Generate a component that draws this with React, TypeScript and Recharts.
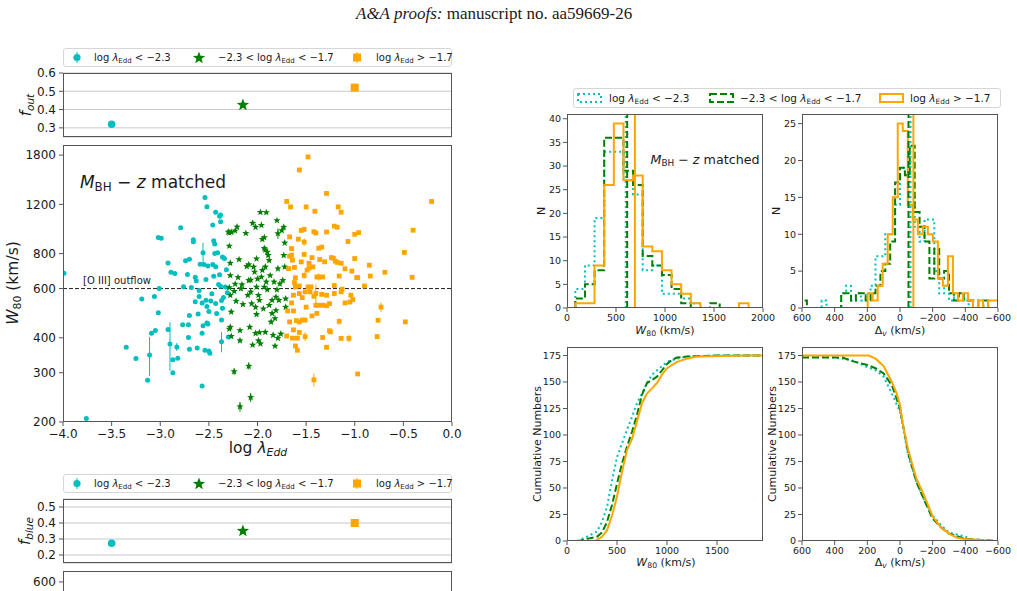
import React from 'react';
import { ScatterChart, Scatter, LineChart, Line, XAxis, YAxis, CartesianGrid, ReferenceLine, ErrorBar } from 'recharts';

const CYAN = '#00bfbf';
const GREEN = '#008000';
const ORANGE = '#ffa500';
const INK = '#1a1a1a';
const FRAME = '#555';
const FONT = '"DejaVu Sans", Verdana, sans-serif';

// Eddington-ratio bins: centre of each bin and the two fractions
const groupLogEdd = [-3.5, -2.15, -1.0];
const fOut = [0.32, 0.425, 0.52];
const fBlue = [0.273, 0.35, 0.4];

const mainTicksX = [-4, -3.5, -3, -2.5, -2, -1.5, -1, -0.5, 0];
const mainTicksY = [200, 300, 400, 600, 800, 1200, 1800];

// [log lambda_Edd, W80 (km/s), optional W80 error]
const lowEdd: number[][] = [
  [-3.99, 680], [-3.76, 206], [-3.35, 370], [-3.25, 337], [-3.19, 550], [-3.13, 282], [-3.11, 347, 55],
  [-3.09, 415], [-3.06, 562], [-3.05, 425], [-3.02, 492], [-3.01, 600], [-3.02, 914], [-2.99, 908],
  [-2.92, 740], [-2.92, 428], [-2.9, 380, 75], [-2.89, 686], [-2.87, 300], [-2.87, 334], [-2.85, 679],
  [-2.83, 371, 12], [-2.82, 338], [-2.79, 990], [-2.77, 445], [-2.76, 609], [-2.74, 755], [-2.72, 674],
  [-2.71, 445], [-2.71, 401], [-2.7, 364], [-2.7, 481], [-2.7, 763], [-2.68, 605], [-2.66, 896],
  [-2.66, 882], [-2.64, 658], [-2.64, 538], [-2.63, 640], [-2.62, 368], [-2.61, 487], [-2.6, 562],
  [-2.6, 590], [-2.59, 733], [-2.57, 269], [-2.57, 415], [-2.57, 533], [-2.56, 442], [-2.56, 805, 70],
  [-2.55, 732], [-2.54, 1269], [-2.54, 361], [-2.53, 646], [-2.53, 545], [-2.52, 1176], [-2.52, 518],
  [-2.52, 452], [-2.51, 722], [-2.51, 448], [-2.5, 359], [-2.5, 497], [-2.49, 352], [-2.48, 541],
  [-2.47, 575], [-2.46, 1013], [-2.46, 732], [-2.45, 890], [-2.45, 664], [-2.44, 866], [-2.44, 800],
  [-2.43, 1125], [-2.43, 718], [-2.43, 530], [-2.42, 489], [-2.41, 805], [-2.4, 620], [-2.39, 672],
  [-2.39, 1087], [-2.38, 1099], [-2.38, 1040], [-2.38, 612], [-2.37, 544], [-2.37, 463], [-2.37, 387, 32],
  [-2.36, 778], [-2.36, 510], [-2.35, 557], [-2.34, 768], [-2.33, 608], [-2.31, 580], [-2.3, 403], [-2.32, 700],
];

const midEdd: number[][] = [
  [-2.3, 957], [-2.29, 950], [-2.27, 955], [-2.23, 966], [-2.21, 997], [-2.24, 303, 8], [-2.29, 852],
  [-2.28, 740], [-2.28, 668], [-2.29, 605], [-2.28, 568], [-2.27, 495], [-2.28, 437], [-2.29, 430],
  [-2.27, 405], [-2.24, 587], [-2.23, 623], [-2.22, 541], [-2.2, 658], [-2.19, 762], [-2.18, 425],
  [-2.18, 391], [-2.18, 227, 9], [-2.17, 600], [-2.16, 620], [-2.15, 527], [-2.12, 946], [-2.11, 720],
  [-2.1, 568], [-2.09, 731], [-2.09, 317, 9], [-2.09, 642], [-2.08, 437], [-2.07, 644], [-2.07, 245, 9],
  [-2.07, 584], [-2.06, 530], [-2.05, 1028], [-2.05, 377], [-2.04, 717], [-2.03, 688], [-2.02, 415],
  [-2.02, 515], [-2.02, 995], [-2.01, 608], [-2.01, 767], [-2.01, 485], [-2.0, 650], [-1.99, 391],
  [-1.99, 568], [-1.98, 418], [-1.98, 545], [-1.97, 1125], [-1.97, 381], [-1.96, 1011], [-1.96, 660],
  [-1.95, 698], [-1.95, 900], [-1.94, 508], [-1.93, 914], [-1.93, 608], [-1.93, 835], [-1.92, 717],
  [-1.92, 825], [-1.92, 419], [-1.91, 1122], [-1.91, 634], [-1.9, 811], [-1.9, 594], [-1.89, 789],
  [-1.88, 523], [-1.88, 757], [-1.87, 668], [-1.86, 456], [-1.85, 489], [-1.85, 545], [-1.84, 409],
  [-1.83, 634], [-1.82, 469], [-1.82, 374], [-1.81, 560], [-1.81, 501], [-1.8, 1051], [-1.8, 594],
  [-1.79, 707], [-1.79, 944, 40], [-1.79, 399], [-1.78, 545], [-1.77, 624], [-1.76, 413], [-1.75, 968],
  [-1.74, 642], [-1.73, 995], [-1.73, 789], [-1.72, 874], [-1.72, 717], [-1.71, 515], [-1.71, 552],
];

const highEdd: number[][] = [
  [-1.48, 1773], [-1.57, 1593], [-1.7, 1229], [-1.66, 1175], [-1.5, 1175], [-1.41, 1134], [-1.29, 1313],
  [-1.17, 1175], [-1.14, 1125], [-0.21, 1229], [-0.4, 970], [-0.49, 808], [-0.41, 658], [-0.48, 456],
  [-1.67, 918], [-1.55, 968], [-1.52, 977], [-1.52, 880, 25], [-1.42, 958], [-1.4, 948], [-1.37, 836],
  [-1.34, 844], [-1.29, 956], [-1.21, 1003], [-1.18, 994], [-1.07, 884], [-1.0, 938], [-0.96, 951],
  [-1.65, 834], [-1.58, 901], [-1.65, 790], [-1.67, 783], [-1.64, 758], [-1.68, 707], [-1.62, 714],
  [-1.61, 656], [-1.55, 747], [-1.52, 795], [-1.52, 668, 18], [-1.49, 698], [-1.47, 739], [-1.47, 710],
  [-1.44, 774], [-1.43, 717], [-1.39, 660], [-1.37, 660, 20], [-1.36, 762], [-1.33, 660], [-1.31, 748],
  [-1.24, 774], [-1.22, 770], [-1.2, 752], [-1.18, 744], [-1.14, 739], [-1.1, 706], [-1.03, 693],
  [-1.0, 768], [-0.98, 657], [-0.97, 656], [-0.9, 613], [-0.85, 727], [-0.84, 665], [-0.69, 686],
  [-1.16, 665], [-1.21, 615], [-1.62, 630], [-1.61, 608], [-1.57, 613], [-1.63, 568], [-1.65, 533],
  [-1.69, 499], [-1.63, 499], [-1.67, 456], [-1.6, 461], [-1.57, 456], [-1.54, 463], [-1.51, 463],
  [-1.57, 576], [-1.54, 557], [-1.51, 584], [-1.5, 515], [-1.48, 608], [-1.46, 584], [-1.45, 608],
  [-1.42, 563], [-1.4, 576, 45], [-1.4, 523], [-1.37, 523], [-1.33, 523], [-1.29, 521], [-1.26, 530],
  [-1.44, 479], [-1.39, 489], [-1.34, 572], [-1.29, 568], [-1.21, 576], [-1.14, 584], [-1.13, 597],
  [-1.1, 533], [-1.05, 537], [-1.04, 568], [-1.02, 548], [-1.16, 458, 12], [-1.14, 398], [-1.06, 398, 12],
  [-0.77, 404], [-0.76, 462], [-0.73, 515, 20], [-0.97, 297], [-1.42, 283, 15], [-1.7, 406], [-1.64, 399],
  [-1.59, 399], [-1.51, 404, 15], [-1.61, 374], [-1.59, 361], [-1.57, 418], [-1.29, 370], [-1.33, 401],
  [-1.26, 424], [-1.25, 420], [-1.63, 427],
];

// W80 histograms: first bin edge, bin width, counts
const w80Start = 85;
const w80Width = 98.2;
const w80Low = [4, 9, 19, 33, 33, 27, 24, 8, 9, 3, 3, 2, 1];
const w80Mid = [2, 5, 8, 36, 36, 29, 26, 11, 9, 7, 4, 1, 0, 0, 1];
const w80High = [1, 1, 9, 26, 39, 27, 28, 13, 12, 8, 5, 3, 1, 0, 0, 0, 0, 1];
const w80Median = [600, 614, 693];

// velocity-offset histograms (bins run from positive to negative)
const dvLowStart = 600;
const dvLowWidth = -30;
const dvLow = [0, 0, 0, 0, 1, 0, 0, 0, 2, 3, 1, 2, 1, 2, 3, 7, 7, 10, 10, 14, 19, 18, 15, 11, 9, 12, 12, 5, 2, 3, 1, 2, 2, 1];
const dvMid = [1, 0, 0, 0, 0, 0, 0, 0, 2, 2, 1, 2, 2, 1, 2, 3, 5, 6, 9, 17, 19, 18, 22, 13, 11, 9, 4, 8, 4, 5, 2, 1, 2, 1, 1, 1, 0, 1];
const dvHighStart = 198;
const dvHighWidth = -30.7;
const dvHigh = [2, 1, 3, 6, 10, 15, 25, 24, 14, 12, 10, 11, 10, 9, 4, 3, 7, 2, 1, 2, 1, 0, 1, 0, 1, 1];
const dvMedian = [-64, -52, -82];

// cumulative distributions
const cumW80LowX = [0, 100, 200, 300, 350, 400, 450, 500, 550, 600, 650, 700, 750, 800, 850, 900, 1000, 1100, 1200, 1600, 1960];
const cumW80LowN = [0, 0, 4, 9, 18, 32, 57, 79, 92, 105, 117, 130, 139, 149, 157, 161, 169, 172, 174, 175, 175];
const cumW80MidX = [0, 120, 200, 300, 350, 400, 450, 500, 550, 600, 650, 700, 750, 800, 850, 900, 950, 1000, 1050, 1100, 1200, 1500, 1960];
const cumW80MidN = [0, 0, 2, 4, 8, 18, 34, 54, 73, 89, 103, 119, 138, 149, 152, 155, 161, 167, 171, 173, 174, 175, 175];
const cumW80HighX = [0, 280, 300, 350, 400, 450, 500, 550, 600, 650, 700, 750, 800, 850, 900, 950, 1000, 1100, 1200, 1300, 1850, 1960];
const cumW80HighN = [0, 0, 1, 4, 10, 24, 42, 65, 86, 96, 113, 130, 139, 144, 149, 157, 163, 169, 172, 174, 175, 175];

const cumDvLowX = [600, 450, 350, 300, 200, 150, 100, 50, 0, -50, -100, -150, -200, -250, -300, -400, -450, -500, -600];
const cumDvLowN = [174, 174, 172, 171, 164, 161, 155, 139, 122, 81, 56, 38, 24, 15, 8, 4, 1, 0, 0];
const cumDvMidX = [600, 350, 300, 200, 150, 100, 50, 0, -50, -100, -150, -200, -250, -300, -400, -500, -600];
const cumDvMidN = [173, 173, 170, 166, 163, 158, 147, 125, 83, 56, 38, 21, 13, 7, 2, 1, 0];
const cumDvHighX = [600, 190, 150, 100, 50, 20, 0, -20, -50, -100, -150, -200, -250, -300, -350, -400, -490, -560, -600];
const cumDvHighN = [175, 175, 172, 165, 150, 139, 128, 108, 86, 59, 42, 23, 13, 7, 3, 2, 1, 0, 0];

const rows = (pts: number[][]) => pts.map(([x, w, e = 0]) => ({ x, w, e }));
const zip = (xs: number[], ns: number[]) => xs.map((x, i) => ({ x, n: ns[i] }));
const steps = (start: number, width: number, counts: number[]) => {
  const pts = [{ x: start, n: 0 }];
  counts.forEach((n, i) => pts.push({ x: start + i * width, n }));
  pts.push({ x: start + counts.length * width, n: 0 });
  return pts;
};

const minus = (s: string) => s.replace('-', '\u2212');
const fmt1 = (v: number) => minus(v.toFixed(1));
const fmt0 = (v: number) => minus(String(v));

const starPoints = (cx: number, cy: number, R: number) => {
  const out: string[] = [];
  for (let i = 0; i < 10; i++) {
    const r = i % 2 ? R * 0.42 : R;
    const a = -Math.PI / 2 + (i * Math.PI) / 5;
    out.push(`${cx + r * Math.cos(a)},${cy + r * Math.sin(a)}`);
  }
  return out.join(' ');
};

const circleShape = (r: number) => (p: any) => <circle cx={p.cx} cy={p.cy} r={r} fill={CYAN} />;
const starShape = (R: number) => (p: any) => <polygon points={starPoints(p.cx, p.cy, R)} fill={GREEN} />;
const squareShape = (s: number) => (p: any) => (
  <rect x={p.cx - s / 2} y={p.cy - s / 2} width={s} height={s} fill={ORANGE} />
);

const Sub = ({ children, italic }: { children: React.ReactNode; italic?: boolean }) => (
  <span style={{ fontSize: '0.7em', verticalAlign: '-0.3em', fontStyle: italic ? 'italic' : 'normal' }}>{children}</span>
);

const Tag = ({ x, y, size, rot, children }: { x: number; y: number; size: number; rot?: boolean; children: React.ReactNode }) => (
  <div
    style={{
      position: 'absolute', left: x, top: y, fontSize: size, lineHeight: 1, whiteSpace: 'nowrap', color: INK,
      transform: `translate(-50%, -50%)${rot ? ' rotate(-90deg)' : ''}`,
    }}
  >
    {children}
  </div>
);

const Frame = ({ x, y, w, h }: { x: number; y: number; w: number; h: number }) => (
  <div style={{ position: 'absolute', left: x, top: y, width: w, height: h, border: `1px solid ${FRAME}`, boxSizing: 'border-box', pointerEvents: 'none' }} />
);

const LogEdd = () => (
  <>
    log <i>λ</i><Sub>Edd</Sub>
  </>
);

const groupText = [
  <><LogEdd /> &lt; −2.3</>,
  <>−2.3 &lt; <LogEdd /> &lt; −1.7</>,
  <><LogEdd /> &gt; −1.7</>,
];

// marker legend used above the fraction panels
const MarkerLegend = ({ top }: { top: number }) => {
  const cx = [77, 199, 357];
  const tx = [94, 218, 376];
  return (
    <div style={{ position: 'absolute', left: 63, top, width: 389, height: 19, border: '1px solid #d6d6d6', borderRadius: 3, boxSizing: 'border-box' }}>
      <svg width={389} height={19} style={{ position: 'absolute', left: -1, top: -1 }}>
        <line x1={cx[0] - 63} x2={cx[0] - 63} y1={4} y2={15} stroke={CYAN} strokeWidth={1} />
        <circle cx={cx[0] - 63} cy={9.5} r={3.6} fill={CYAN} />
        <polygon points={starPoints(cx[1] - 63, 10, 6.5)} fill={GREEN} />
        <line x1={cx[2] - 63} x2={cx[2] - 63} y1={4} y2={15} stroke={ORANGE} strokeWidth={1} />
        <rect x={cx[2] - 63 - 4} y={5.5} width={8} height={8} fill={ORANGE} />
      </svg>
      {groupText.map((t, i) => (
        <div key={i} style={{ position: 'absolute', left: tx[i] - 64, top: 3, fontSize: 10, lineHeight: '12px', whiteSpace: 'nowrap', color: INK }}>{t}</div>
      ))}
    </div>
  );
};

const LineLegend = () => {
  const px = [577, 709, 879];
  const tx = [609, 740, 910];
  const dash = ['2 3', '7 3', undefined];
  const col = [CYAN, GREEN, ORANGE];
  return (
    <div style={{ position: 'absolute', left: 573, top: 88, width: 428, height: 20, border: '1px solid #d6d6d6', borderRadius: 3, boxSizing: 'border-box' }}>
      <svg width={428} height={20} style={{ position: 'absolute', left: -1, top: -1 }}>
        {px.map((x, i) => (
          <rect key={i} x={x - 573 + 1} y={6} width={23} height={8} fill="none" stroke={col[i]} strokeWidth={2} strokeDasharray={dash[i]} />
        ))}
      </svg>
      {groupText.map((t, i) => (
        <div key={i} style={{ position: 'absolute', left: tx[i] - 574, top: 3, fontSize: 10.5, lineHeight: '13px', whiteSpace: 'nowrap', color: INK }}>{t}</div>
      ))}
    </div>
  );
};

const tickL = { fontSize: 12, fill: INK, fontFamily: FONT };
const tickR = { fontSize: 9.5, fill: INK, fontFamily: FONT };
const PL = 63;
const PW = 389;
const MR = 16; // room on the right for the last tick label

const FractionPanel = ({ top, domain, ticks, values }: { top: number; domain: number[]; ticks: number[]; values: number[] }) => {
  const data = groupLogEdd.map((x, i) => ({ x, f: values[i] }));
  return (
    <div style={{ position: 'absolute', left: PL - 50, top: top - 8 }}>
      <ScatterChart width={50 + PW + MR} height={8 + 64 + 2} margin={{ top: 8, right: MR, left: 0, bottom: 2 }}>
        <CartesianGrid vertical={false} stroke="#c8c8c8" strokeWidth={1} />
        <XAxis type="number" dataKey="x" domain={[-4, 0]} hide allowDataOverflow />
        <YAxis type="number" dataKey="f" domain={domain} ticks={ticks} interval={0} width={50} axisLine={false} tickSize={4} tickMargin={3}
          tickLine={{ stroke: FRAME }} tick={tickL} tickFormatter={fmt1} allowDataOverflow />
        <Scatter data={[data[0]]} shape={circleShape(3.8)} isAnimationActive={false} />
        <Scatter data={[data[1]]} shape={starShape(6.5)} isAnimationActive={false} />
        <Scatter data={[data[2]]} shape={squareShape(8)} isAnimationActive={false} />
      </ScatterChart>
    </div>
  );
};

type Series = { data: { x: number; n: number }[]; color: string; dash?: string };

const LinePanel = ({ x, y, domainX, ticksX, reversed, domainY, ticksY, series, step, medians }: {
  x: number; y: number; domainX: number[]; ticksX: number[]; reversed?: boolean; domainY: number[]; ticksY: number[];
  series: Series[]; step?: boolean; medians?: number[];
}) => (
  <div style={{ position: 'absolute', left: x - 26, top: y - 6 }}>
    <LineChart width={26 + 196 + MR} height={6 + 194 + 20} margin={{ top: 6, right: MR, left: 0, bottom: 0 }}>
      <XAxis type="number" dataKey="x" domain={domainX} ticks={ticksX} interval={0} reversed={reversed} height={20} axisLine={false}
        tickSize={4} tickMargin={2} tickLine={{ stroke: FRAME }} tick={tickR} tickFormatter={fmt0} allowDataOverflow />
      <YAxis type="number" dataKey="n" domain={domainY} ticks={ticksY} interval={0} width={26} axisLine={false} tickSize={4} tickMargin={2}
        tickLine={{ stroke: FRAME }} tick={tickR} allowDataOverflow />
      {series.map((s, i) => (
        <Line key={i} data={s.data} dataKey="n" type={step ? 'stepAfter' : 'linear'} stroke={s.color} strokeWidth={2}
          strokeDasharray={s.dash} dot={false} isAnimationActive={false} />
      ))}
      {medians && medians.map((m, i) => (
        <ReferenceLine key={i} x={m} stroke={series[i].color} strokeWidth={2} strokeDasharray={series[i].dash} />
      ))}
    </LineChart>
  </div>
);

export default function App() {
  const styles = [
    { color: CYAN, dash: '2 3' },
    { color: GREEN, dash: '7 3' },
    { color: ORANGE, dash: undefined },
  ];
  const histW = [steps(w80Start, w80Width, w80Low), steps(w80Start, w80Width, w80Mid), steps(w80Start, w80Width, w80High)];
  const histDv = [steps(dvLowStart, dvLowWidth, dvLow), steps(dvLowStart, dvLowWidth, dvMid), steps(dvHighStart, dvHighWidth, dvHigh)];
  const cumW = [zip(cumW80LowX, cumW80LowN), zip(cumW80MidX, cumW80MidN), zip(cumW80HighX, cumW80HighN)];
  const cumDv = [zip(cumDvLowX, cumDvLowN), zip(cumDvMidX, cumDvMidN), zip(cumDvHighX, cumDvHighN)];
  const dvTicks = [600, 400, 200, 0, -200, -400, -600];

  return (
    <div style={{ position: 'fixed', left: 0, top: 0, width: 1017, height: 591, overflow: 'hidden', background: '#fff', fontFamily: FONT }}>
      <div style={{ position: 'absolute', left: 356, top: 4, fontFamily: '"Liberation Serif", "Times New Roman", serif', fontSize: 17, lineHeight: '20px', whiteSpace: 'nowrap', color: INK }}>
        <i>A&amp;A proofs:</i> manuscript no. aa59669-26
      </div>

      {/* left column: fractions and W80 against Eddington ratio */}
      <MarkerLegend top={48} />
      <FractionPanel top={73} domain={[0.25, 0.6]} ticks={[0.3, 0.4, 0.5, 0.6]} values={fOut} />
      <Frame x={PL} y={73} w={PW} h={64} />
      <Tag x={27} y={105} size={15} rot><i>f</i><Sub italic>out</Sub></Tag>

      <div style={{ position: 'absolute', left: PL - 60, top: 145 - 8 }}>
        <ScatterChart width={60 + PW + MR} height={8 + 277 + 30} margin={{ top: 8, right: MR, left: 0, bottom: 0 }}>
          <XAxis type="number" dataKey="x" domain={[-4, 0]} ticks={mainTicksX} interval={0} height={30} axisLine={false} tickSize={4}
            tickMargin={3} tickLine={{ stroke: FRAME }} tick={tickL} tickFormatter={fmt1} allowDataOverflow />
          <YAxis type="number" dataKey="w" scale="log" domain={[200, 1956]} ticks={mainTicksY} interval={0} width={60} axisLine={false}
            tickSize={4} tickMargin={3} tickLine={{ stroke: FRAME }} tick={tickL} allowDataOverflow />
          <ReferenceLine y={600} stroke="#222" strokeWidth={1} strokeDasharray="4 2" />
          <Scatter data={rows(lowEdd)} shape={circleShape(2.5)} isAnimationActive={false}>
            <ErrorBar dataKey="e" direction="y" width={0} stroke={CYAN} strokeWidth={1} isAnimationActive={false} />
          </Scatter>
          <Scatter data={rows(midEdd)} shape={starShape(3.8)} isAnimationActive={false}>
            <ErrorBar dataKey="e" direction="y" width={0} stroke={GREEN} strokeWidth={1} isAnimationActive={false} />
          </Scatter>
          <Scatter data={rows(highEdd)} shape={squareShape(4.8)} isAnimationActive={false}>
            <ErrorBar dataKey="e" direction="y" width={0} stroke={ORANGE} strokeWidth={1} isAnimationActive={false} />
          </Scatter>
        </ScatterChart>
      </div>
      <Frame x={PL} y={145} w={PW} h={277} />
      <Tag x={153} y={184} size={17}><i>M</i><Sub>BH</Sub> − <i>z</i> matched</Tag>
      <Tag x={117} y={281} size={10}>[O III] outflow</Tag>
      <Tag x={15} y={283} size={15.5} rot><i>W</i><Sub>80</Sub> (km/s)</Tag>
      <Tag x={258} y={450} size={15.5}>log <i>λ</i><Sub italic>Edd</Sub></Tag>

      <MarkerLegend top={474} />
      <FractionPanel top={499} domain={[0.15, 0.55]} ticks={[0.2, 0.3, 0.4, 0.5]} values={fBlue} />
      <Frame x={PL} y={499} w={PW} h={64} />
      <Tag x={26} y={531} size={15} rot><i>f</i><Sub italic>blue</Sub></Tag>

      {/* next panel, only its top edge is on the page */}
      <div style={{ position: 'absolute', left: PL - 50, top: 571 }}>
        <ScatterChart width={50 + PW} height={120} margin={{ top: 0, right: 0, left: 0, bottom: 0 }}>
          <XAxis type="number" dataKey="x" domain={[-4, 0]} hide />
          <YAxis type="number" dataKey="w" domain={[0, 660]} ticks={[600]} interval={0} width={50} axisLine={false} tickSize={4}
            tickMargin={3} tickLine={{ stroke: FRAME }} tick={tickL} allowDataOverflow />
          <Scatter data={[]} isAnimationActive={false} />
        </ScatterChart>
      </div>
      <Frame x={PL} y={571} w={PW} h={60} />

      {/* right column: distributions */}
      <LineLegend />
      <LinePanel x={567} y={114} domainX={[0, 2000]} ticksX={[0, 500, 1000, 1500, 2000]} domainY={[0, 41]}
        ticksY={[0, 5, 10, 15, 20, 25, 30, 35, 40]} step medians={w80Median}
        series={histW.map((d, i) => ({ data: d, ...styles[i] }))} />
      <Frame x={567} y={114} w={196} h={194} />
      <Tag x={705} y={161} size={12.7}><i>M</i><Sub>BH</Sub> − <i>z</i> matched</Tag>
      <Tag x={541} y={211} size={11} rot>N</Tag>
      <Tag x={665} y={331} size={11}><i>W</i><Sub>80</Sub> (km/s)</Tag>

      <LinePanel x={802} y={114} domainX={[-600, 600]} ticksX={dvTicks} reversed domainY={[0, 26.3]}
        ticksY={[0, 5, 10, 15, 20, 25]} step medians={dvMedian}
        series={histDv.map((d, i) => ({ data: d, ...styles[i] }))} />
      <Frame x={802} y={114} w={196} h={194} />
      <Tag x={776} y={211} size={11} rot>N</Tag>
      <Tag x={900} y={331} size={11}>Δ<Sub italic>v</Sub> (km/s)</Tag>

      <LinePanel x={567} y={347} domainX={[0, 1960]} ticksX={[0, 500, 1000, 1500]} domainY={[0, 183]}
        ticksY={[0, 25, 50, 75, 100, 125, 150, 175]}
        series={cumW.map((d, i) => ({ data: d, ...styles[i] }))} />
      <Frame x={567} y={347} w={196} h={194} />
      <Tag x={537} y={444} size={11} rot>Cumulative Numbers</Tag>
      <Tag x={666} y={563} size={11}><i>W</i><Sub>80</Sub> (km/s)</Tag>

      <LinePanel x={802} y={347} domainX={[-600, 600]} ticksX={dvTicks} reversed domainY={[0, 183]}
        ticksY={[0, 25, 50, 75, 100, 125, 150, 175]}
        series={cumDv.map((d, i) => ({ data: d, ...styles[i] }))} />
      <Frame x={802} y={347} w={196} h={194} />
      <Tag x={772} y={444} size={11} rot>Cumulative Numbers</Tag>
      <Tag x={900} y={563} size={11}>Δ<Sub italic>v</Sub> (km/s)</Tag>
    </div>
  );
}
